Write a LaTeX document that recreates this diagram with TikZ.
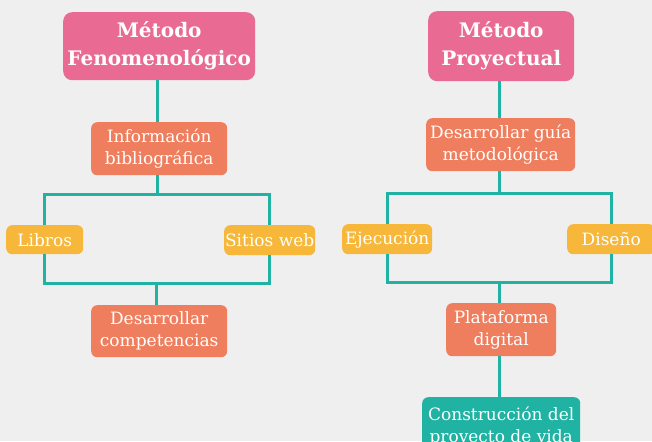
\documentclass[tikz,border=0pt]{standalone}
\usepackage{fontspec}
\setmainfont{DejaVu Serif}
\definecolor{bg}{HTML}{EFEFEF}
\definecolor{pinkc}{HTML}{E96A93}
\definecolor{orangec}{HTML}{EF7E5E}
\definecolor{yellowc}{HTML}{F6B73A}
\definecolor{tealc}{HTML}{20B2A2}
\tikzset{
  box/.style={rectangle, rounded corners=6pt, text=white, align=center, inner sep=0pt, anchor=north west},
  titlebox/.style={box, fill=pinkc, rounded corners=9pt, font=\bfseries\fontsize{20}{28}\selectfont},
  midbox/.style={box, fill=orangec, font=\fontsize{17}{22}\selectfont},
  leafbox/.style={box, fill=yellowc, font=\fontsize{17}{20}\selectfont},
  endbox/.style={box, fill=tealc, font=\fontsize{17}{22}\selectfont},
  conn/.style={draw=tealc, line width=3pt}
}
\begin{document}
\begin{tikzpicture}[x=1pt,y=-1pt]
\useasboundingbox (0,0) rectangle (652,441);
\fill[bg] (0,0) rectangle (652,441);
\clip (0,0) rectangle (652,441);
% coordinates
\coordinate (lj1) at (157,194);
\coordinate (lj2) at (156,283);
\coordinate (rj1) at (499,193);
\coordinate (rj2) at (499,282);
% Left tree
\node[titlebox, minimum width=192pt, minimum height=68pt] (t1) at (63,12) {Método\\Fenomenológico};
\node[midbox, minimum width=136pt, minimum height=53pt] (i1) at (91,122) {Información\\bibliográfica};
\node[leafbox, minimum width=77pt, minimum height=29pt] (lib) at (6,225) {Libros};
\node[leafbox, minimum width=91pt, minimum height=30pt] (sw) at (224,225) {Sitios web};
\node[midbox, minimum width=136pt, minimum height=52pt] (dc) at (91,305) {Desarrollar\\competencias};
% Right tree
\node[titlebox, minimum width=146pt, minimum height=70pt] (t2) at (428,11) {Método\\Proyectual};
\node[midbox, minimum width=149pt, minimum height=53pt] (i2) at (426,118) {Desarrollar guía\\metodológica};
\node[leafbox, minimum width=90pt, minimum height=30pt] (ej) at (342,224) {Ejecución};
\node[leafbox, minimum width=88pt, minimum height=30pt] (dis) at (567,224) {Diseño};
\node[midbox, minimum width=110pt, minimum height=53pt] (pd) at (446,303) {Plataforma\\digital};
\node[endbox, minimum width=158pt, minimum height=58pt] (cp) at (422,397) {Construcción del\\proyecto de vida};
% connectors
\begin{scope}[conn]
\draw (t1.south -| lj1) -- (i1.north -| lj1);
\draw (i1.south -| lj1) -- (lj1);
\draw (lib.north) |- (lj1) -| (sw.north);
\draw (lib.south) |- (lj2) -| (sw.south);
\draw (lj2) -- (dc.north -| lj2);
\draw (t2.south -| rj1) -- (i2.north -| rj1);
\draw (i2.south -| rj1) -- (rj1);
\draw (ej.north) |- (rj1) -| (dis.north);
\draw (ej.south) |- (rj2) -| (dis.south);
\draw (rj2) -- (pd.north -| rj2);
\draw (pd.south -| rj2) -- (cp.north -| rj2);
\end{scope}
\end{tikzpicture}
\end{document}
